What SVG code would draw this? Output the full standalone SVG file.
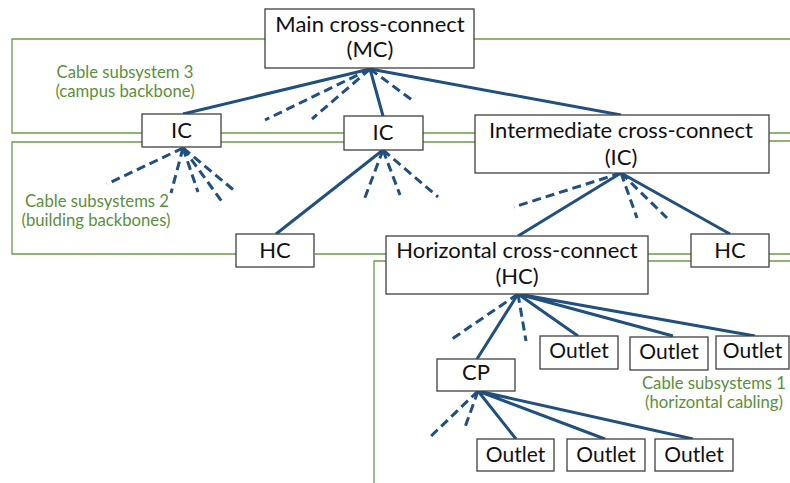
<svg xmlns="http://www.w3.org/2000/svg" width="790" height="483" viewBox="0 0 790 483">
<style>
.bg{fill:#ffffff}
.grn{fill:none;stroke:#6b9c46;stroke-width:1.3}
.box{fill:#ffffff;stroke:#404040;stroke-width:1.3}
.t{font-family:Lato,"Liberation Sans",sans-serif;font-size:22px;fill:#111111;text-anchor:middle}
.o{font-size:21px}
.lbl{font-family:Lato,"Liberation Sans",sans-serif;font-size:16.7px;fill:#5b8f3c;text-anchor:middle}
.s{fill:none;stroke:#21507f;stroke-width:3;stroke-linecap:butt}
.d{fill:none;stroke:#21507f;stroke-width:3;stroke-dasharray:9 5}
</style>
<rect class="bg" x="0" y="0" width="790" height="483"/>
<g id="subsystem-lines">
<path class="grn" d="M265,39 H12 V133 H142 M221,133 H344 M423,133 H475 M769,133 H790 M474,39 H790"/>
<path class="grn" d="M142,142 H12 V254 H236 M221,142 H344 M423,142 H475 M769,141 H790 M315,254 H386 M648,254 H691 M769,254 H790"/>
<path class="grn" d="M386,261 H374 V483 M648,261 H691 M769,261 H790"/>
</g>
<g id="connectors">
<path class="s" d="M370,69 L183,114 M370,69 L383,116 M370,69 L621,115"/>
<path class="d" d="M370,69 L265,120 M370,69 L312,119 M370,69 L412,100"/>
<path class="d" d="M183,148 L107,184 M183,148 L171,193 M183,148 L198,192 M183,148 L223,203 M183,148 L236,192"/>
<path class="s" d="M383,150 L276,234"/>
<path class="d" d="M383,150 L364,200 M383,150 L400,195 M383,150 L438,197"/>
<path class="s" d="M621,173 L518,236 M621,173 L730,234"/>
<path class="d" d="M621,173 L514,207 M621,173 L637,218 M621,173 L667,218"/>
<path class="s" d="M518,294 L477,359 M518,294 L578,336 M518,294 L673,336 M518,294 L755,336"/>
<path class="d" d="M518,294 L449,341 M518,294 L526,341"/>
<path class="s" d="M478,391 L516,439 M478,391 L605,439 M478,391 L693,439"/>
<path class="d" d="M478,391 L428,439 M478,391 L464,430"/>
</g>
<g id="mc"><rect class="box" x="265" y="9" width="209" height="59"/><text class="t" x="370" y="32">Main cross-connect</text><text class="t" x="370" y="57">(MC)</text></g>
<g id="ic1"><rect class="box" x="142" y="114" width="79" height="33"/><text class="t" x="181.5" y="138">IC</text></g>
<g id="ic2"><rect class="box" x="344" y="116" width="79" height="34"/><text class="t" x="383" y="140">IC</text></g>
<g id="ic3"><rect class="box" x="475" y="115" width="294" height="58"/><text class="t" x="621" y="138">Intermediate cross-connect</text><text class="t" x="621" y="165">(IC)</text></g>
<g id="hc1"><rect class="box" x="236" y="234" width="78" height="33"/><text class="t" x="275" y="258">HC</text></g>
<g id="hc-main"><rect class="box" x="386" y="236" width="262" height="58"/><text class="t" x="517" y="258">Horizontal cross-connect</text><text class="t" x="517" y="283.5">(HC)</text></g>
<g id="hc2"><rect class="box" x="691" y="234" width="78" height="33"/><text class="t" x="730" y="258">HC</text></g>
<g id="outlet1"><rect class="box" x="540" y="336" width="78" height="33"/><text class="t o" x="579" y="358">Outlet</text></g>
<g id="outlet2"><rect class="box" x="630" y="337" width="78" height="33"/><text class="t o" x="669" y="359">Outlet</text></g>
<g id="outlet3"><rect class="box" x="716" y="336" width="73" height="33"/><text class="t o" x="752.5" y="358">Outlet</text></g>
<g id="cp"><rect class="box" x="437" y="359" width="78" height="32"/><text class="t" x="476" y="380">CP</text></g>
<g id="outlet4"><rect class="box" x="477" y="439" width="77" height="32"/><text class="t o" x="515.5" y="462">Outlet</text></g>
<g id="outlet5"><rect class="box" x="567" y="439" width="78" height="32"/><text class="t o" x="606" y="462">Outlet</text></g>
<g id="outlet6"><rect class="box" x="655" y="439" width="78" height="32"/><text class="t o" x="694" y="462">Outlet</text></g>
<g id="labels">
<text class="lbl" x="125" y="78">Cable subsystem 3</text>
<text class="lbl" x="125" y="97">(campus backbone)</text>
<text class="lbl" x="97" y="207">Cable subsystems 2</text>
<text class="lbl" x="96" y="226">(building backbones)</text>
<text class="lbl" x="714" y="389">Cable subsystems 1</text>
<text class="lbl" x="714" y="408">(horizontal cabling)</text>
</g>
</svg>
